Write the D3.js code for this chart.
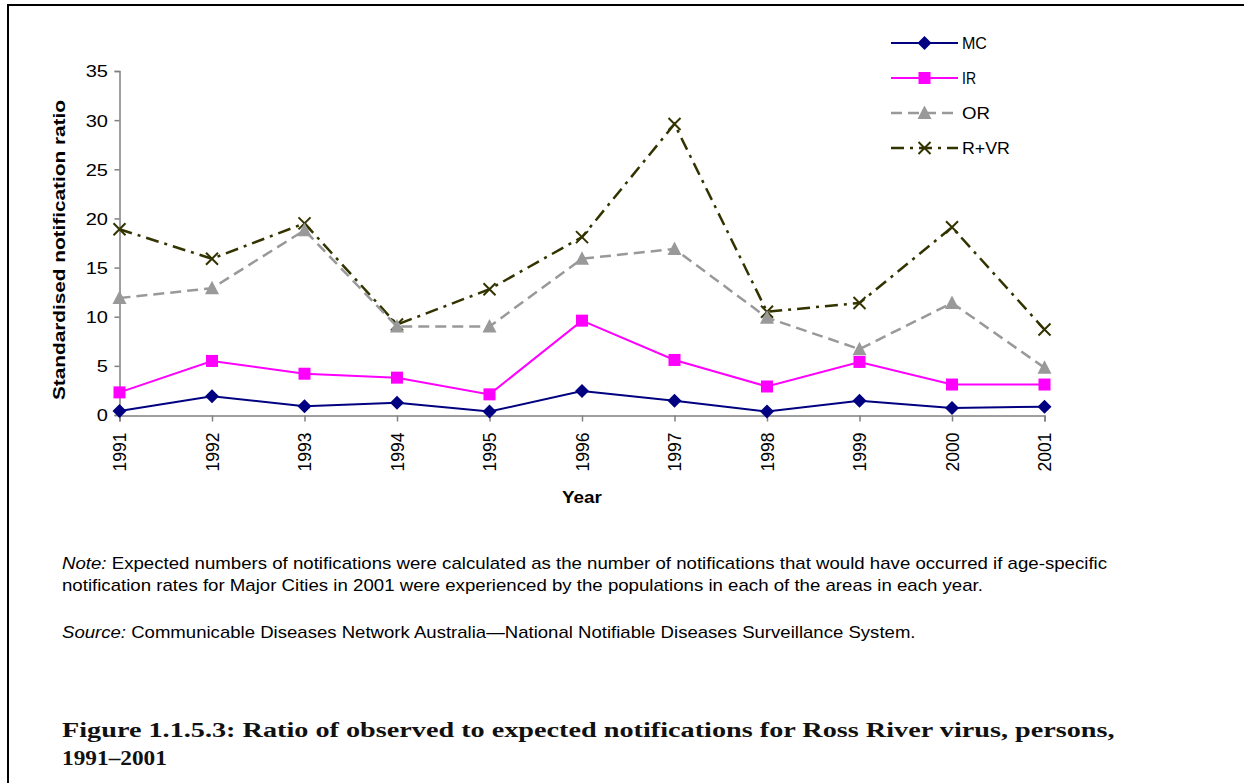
<!DOCTYPE html>
<html>
<head>
<meta charset="utf-8">
<script src="https://cdn.jsdelivr.net/npm/d3@7"></script>
<style>
  html, body { margin: 0; padding: 0; background: #fff; }
  svg { display: block; }
</style>
</head>
<body>
<svg id="chart" width="1244" height="783"></svg>
<script>
// Ross River virus: ratio of observed to expected notifications, 1991–2001
const years = [1991, 1992, 1993, 1994, 1995, 1996, 1997, 1998, 1999, 2000, 2001];
const yTicks = [0, 5, 10, 15, 20, 25, 30, 35];
const mcValues  = [0.4, 1.9, 0.9, 1.25, 0.35, 2.45, 1.45, 0.35, 1.45, 0.7, 0.85];
const irValues  = [2.3, 5.5, 4.2, 3.8, 2.1, 9.6, 5.6, 2.9, 5.4, 3.1, 3.1];
const orValues  = [11.9, 12.9, 18.8, 9.0, 9.0, 15.9, 16.9, 9.9, 6.7, 11.4, 4.8];
const rvrValues = [18.9, 15.9, 19.5, 9.2, 12.8, 18.1, 29.6, 10.5, 11.4, 19.1, 8.7];
const seriesNames = ["MC", "IR", "OR", "R+VR"];

const series = [
  { name: seriesNames[0], values: mcValues,  color: "#000080", dash: null,          width: 2,   marker: "diamond" },
  { name: seriesNames[1], values: irValues,  color: "#FF00FF", dash: null,          width: 2,   marker: "square" },
  { name: seriesNames[2], values: orValues,  color: "#999999", dash: "11,6",        width: 2.5, marker: "triangle" },
  { name: seriesNames[3], values: rvrValues, color: "#333300", dash: "13,6,3,6",    width: 2.5, marker: "cross" }
];

const svg = d3.select("#chart");
const font = "'Liberation Sans', Arial, sans-serif";

// Stretch a start-anchored text horizontally so it spans the given width
function fitText(sel, x0, y0, width, extra) {
  const node = sel.node();
  const w = node.getComputedTextLength();
  sel.attr("x", 0).attr("y", 0)
    .attr("transform", `translate(${x0},${y0}) ${extra || ""} scale(${width / w},1)`);
}

// Page frame (top and left rules)
svg.append("line").attr("x1", 8).attr("y1", 5).attr("x2", 1244).attr("y2", 5)
  .attr("stroke", "#000").attr("stroke-width", 2);
svg.append("line").attr("x1", 8).attr("y1", 4).attr("x2", 8).attr("y2", 783)
  .attr("stroke", "#000").attr("stroke-width", 2);

const x = d3.scalePoint().domain(years).range([119.5, 1044.5]);
const y = d3.scaleLinear().domain([0, 35]).range([415, 71]);

// Axes
const yAxis = svg.append("g").attr("transform", "translate(119.5,0)")
  .call(d3.axisLeft(y).tickValues(yTicks).tickSize(5).tickFormat(d3.format("d")));
const xAxis = svg.append("g").attr("transform", "translate(0,415.5)")
  .call(d3.axisBottom(x).tickSize(6).tickFormat(d => d));

[yAxis, xAxis].forEach(g => {
  g.select(".domain").attr("stroke", "#808080").attr("stroke-width", 1.5);
  g.selectAll(".tick line").attr("stroke", "#808080").attr("stroke-width", 1.5);
  g.selectAll("text").attr("fill", "#000").style("font-family", font).style("font-size", "17px");
});
const yLabelScale = 1.18;
yAxis.selectAll(".tick text")
  .attr("x", -11.5 / yLabelScale)
  .attr("dy", "0.35em")
  .attr("transform", `scale(${yLabelScale},1)`);
xAxis.selectAll(".tick text")
  .style("font-size", "17.5px")
  .attr("transform", "rotate(-90)")
  .attr("text-anchor", "end")
  .attr("x", -17)
  .attr("y", 0)
  .attr("dy", "0.35em");

// Axis titles
const yTitle = svg.append("text")
  .attr("text-anchor", "start")
  .style("font-family", font).style("font-size", "17px").style("font-weight", "bold")
  .text("Standardised notification ratio");
fitText(yTitle, 65, 400, 300, "rotate(-90)");

const xTitle = svg.append("text")
  .style("font-family", font).style("font-size", "17px").style("font-weight", "bold")
  .text("Year");
fitText(xTitle, 562, 503, 40);

// Marker drawing
function drawMarker(g, type, color) {
  if (type === "diamond") {
    g.append("path").attr("d", "M0,-7L7,0L0,7L-7,0Z").attr("fill", color);
  } else if (type === "square") {
    g.append("rect").attr("x", -6).attr("y", -6).attr("width", 12).attr("height", 12).attr("fill", color);
  } else if (type === "triangle") {
    g.append("path").attr("d", "M0,-7.5L7,6L-7,6Z").attr("fill", color);
  } else if (type === "cross") {
    g.append("path").attr("d", "M-6,-6L6,6M-6,6L6,-6").attr("stroke", color).attr("stroke-width", 2).attr("fill", "none");
  }
}

const line = d3.line().x((d, i) => x(years[i])).y(d => y(d));

// Series drawn back-to-front
[...series].reverse().forEach(s => {
  svg.append("path")
    .datum(s.values)
    .attr("d", line)
    .attr("fill", "none")
    .attr("stroke", s.color)
    .attr("stroke-width", s.width)
    .attr("stroke-dasharray", s.dash);
  s.values.forEach((v, i) => {
    const g = svg.append("g").attr("transform", `translate(${x(years[i])},${y(v)})`);
    drawMarker(g, s.marker, s.color);
  });
});

// Legend
const legendRows = [43, 78, 113, 148];
const legendWidths = [25, 14, 28, 48];
series.forEach((s, i) => {
  const ly = legendRows[i];
  svg.append("line").attr("x1", 891).attr("x2", 958).attr("y1", ly).attr("y2", ly)
    .attr("stroke", s.color).attr("stroke-width", s.width).attr("stroke-dasharray", s.dash);
  drawMarker(svg.append("g").attr("transform", `translate(924.5,${ly})`), s.marker, s.color);
  const t = svg.append("text").attr("dy", "0.35em")
    .style("font-family", font).style("font-size", "17px").text(s.name);
  fitText(t, 962, ly, legendWidths[i]);
});

// Notes
const notes = svg.append("g").style("font-family", font).style("font-size", "16px").attr("fill", "#000");
const n1 = notes.append("text");
n1.append("tspan").style("font-style", "italic").text("Note:");
n1.append("tspan").text(" Expected numbers of notifications were calculated as the number of notifications that would have occurred if age-specific");
fitText(n1, 62, 569, 1046);
const n2 = notes.append("text")
  .text("notification rates for Major Cities in 2001 were experienced by the populations in each of the areas in each year.");
fitText(n2, 62, 591, 922);
const n3 = notes.append("text");
n3.append("tspan").style("font-style", "italic").text("Source:");
n3.append("tspan").text(" Communicable Diseases Network Australia\u2014National Notifiable Diseases Surveillance System.");
fitText(n3, 62, 638, 854);

// Figure caption
const cap = svg.append("g").style("font-family", "'Liberation Serif', 'DejaVu Serif', serif")
  .style("font-size", "22px").style("font-weight", "bold").attr("fill", "#111");
const c1 = cap.append("text")
  .text("Figure 1.1.5.3: Ratio of observed to expected notifications for Ross River virus, persons,");
fitText(c1, 62, 737, 1053);
const c2 = cap.append("text").text("1991\u20132001");
fitText(c2, 62, 765, 105);
</script>
</body>
</html>
